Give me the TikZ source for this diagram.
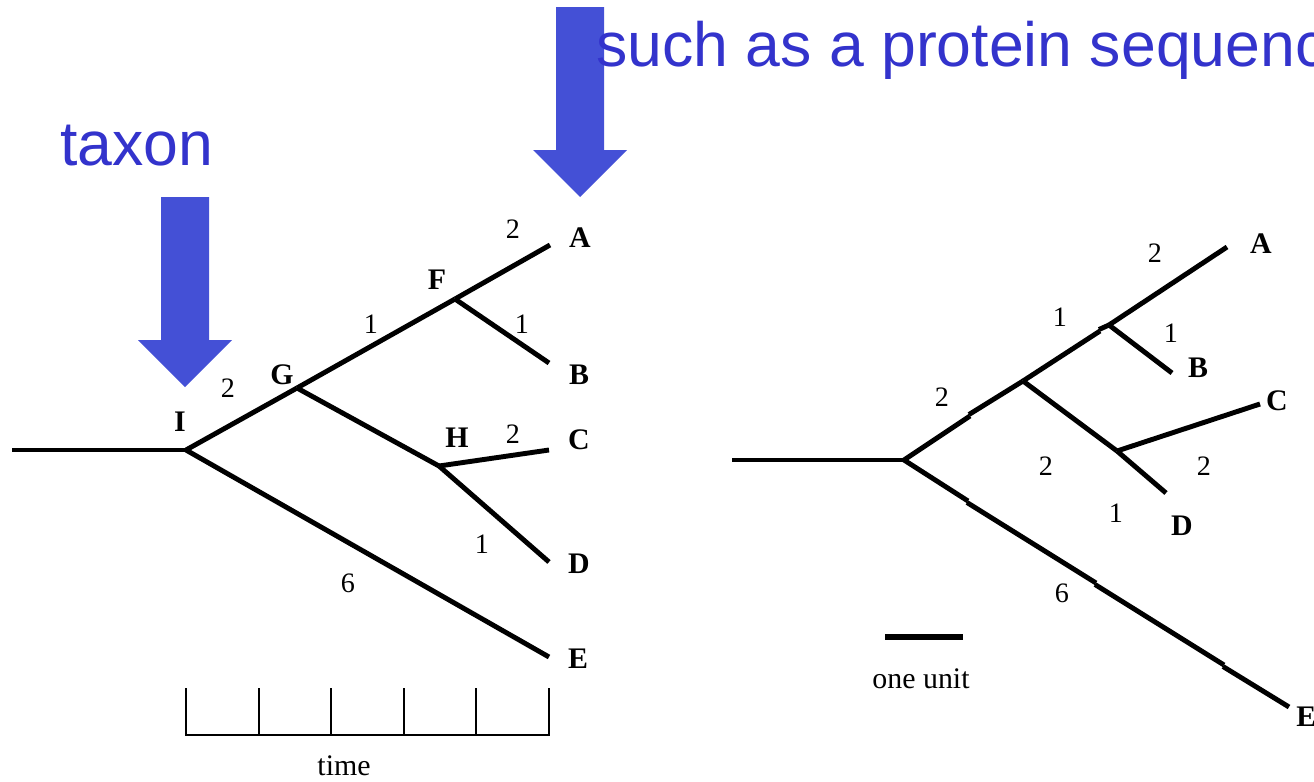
\documentclass[tikz,border=0pt]{standalone}
\usepackage{fontspec}
\setmainfont{Liberation Serif}
\newfontfamily\slidefont{Liberation Sans}
\usetikzlibrary{positioning}
\definecolor{ArrowBlue}{RGB}{68,80,214}
\definecolor{TextBlue}{RGB}{51,51,204}

\tikzset{
  branch/.style={line width=2.8pt},
  axisline/.style={line width=1.1pt},
  taxlabel/.style={font=\fontsize{17}{20}\selectfont\bfseries, inner sep=0pt},
  lenlabel/.style={font=\fontsize{16}{19}\selectfont, inner sep=0pt},
  plainlabel/.style={font=\fontsize{17}{20}\selectfont, inner sep=0pt},
  bigarrow/.style={fill=ArrowBlue},
  slidetext/.style={font=\slidefont\fontsize{35.6}{42}\selectfont, text=TextBlue, inner sep=0pt}
}

\begin{document}
\begin{tikzpicture}[x=0.02cm, y=-0.02cm]
\useasboundingbox (0,0) rectangle (1314,781);

% big arrows
\foreach \ax/\ay in {185/197, 580/7} {
  \fill[bigarrow] (\ax-24,\ay) -- (\ax+24,\ay) -- (\ax+24,\ay+143) -- (\ax+47,\ay+143)
    -- (\ax,\ay+190) -- (\ax-47,\ay+143) -- (\ax-24,\ay+143) -- cycle;
}
\node[slidetext, anchor=base] (taxon) at (137,165) {taxon};
\node[slidetext, anchor=base west] (seq) at (596,66) {such as a protein sequence};

% rooted tree, time scale
\coordinate (root) at (12,450);
\coordinate (I) at (186,450);
\coordinate (G) at (297,388);
\coordinate (F) at (455,299);
\coordinate (H) at (439,466);
\coordinate (A) at (550,245);
\coordinate (B) at (549,363);
\coordinate (C) at (549,450);
\coordinate (D) at (549,562);
\coordinate (E) at (549,657);
\draw[branch] (root) -- (I);
\draw[branch] (I) -- (G);
\draw[branch] (G) -- (F);
\draw[branch] (F) -- (A);
\draw[branch] (F) -- (B);
\draw[branch] (G) -- (H);
\draw[branch] (H) -- (C);
\draw[branch] (H) -- (D);
\draw[branch] (I) -- (E);

\node[taxlabel] (labI) at (180,422) {I};
\node[taxlabel] (labG) at (282,375) {G};
\node[taxlabel] (labF) at (437,280) {F};
\node[taxlabel] (labH) at (457,438) {H};
\node[taxlabel] (labA) at (580,238) {A};
\node[taxlabel] (labB) at (579,375) {B};
\node[taxlabel] (labC) at (579,440) {C};
\node[taxlabel] (labD) at (579,564) {D};
\node[taxlabel] (labE) at (578,659) {E};
\node[lenlabel] (lIG) at (228,388) {2};
\node[lenlabel] (lGF) at (371,324) {1};
\node[lenlabel] (lFA) at (513,229) {2};
\node[lenlabel] (lFB) at (522,324) {1};
\node[lenlabel] (lHC) at (513,434) {2};
\node[lenlabel] (lHD) at (482,544) {1};
\node[lenlabel] (lIE) at (348,583) {6};

\draw[axisline] (186,735) -- (549,735);
\foreach \i in {0,...,5}
  \draw[axisline] ({186+72.6*\i},735.5) -- ({186+72.6*\i},688);
\node[plainlabel] (time) at (344,766) {time};

% unrooted tree, branch lengths to scale
\coordinate (root2) at (732,460);
\coordinate (R) at (904,460);
\coordinate (Gr) at (1023,381);
\coordinate (Fr) at (1109,325);
\coordinate (Hr) at (1117,451);
\coordinate (Ar) at (1227,247);
\coordinate (Br) at (1172,373);
\coordinate (Cr) at (1260,404);
\coordinate (Dr) at (1166,493);
\coordinate (Er) at (1289,707);
\coordinate (j1) at (970,416);
\coordinate (j2) at (1100,331);
\coordinate (e1) at (968,501);
\coordinate (e2) at (1096,583);
\coordinate (e3) at (1224,665);
\draw[branch] (root2) -- (R);
\draw[branch] (R) -- (j1);
\draw[branch] ([shift={(-1,-1.5)}]j1) -- (Gr);
\draw[branch] (Gr) -- (j2);
\draw[branch] ([shift={(-1,-1.5)}]j2) -- (Fr);
\draw[branch] (Fr) -- (Ar);
\draw[branch] (Fr) -- (Br);
\draw[branch] (Gr) -- (Hr);
\draw[branch] (Hr) -- (Cr);
\draw[branch] (Hr) -- (Dr);
\draw[branch] (R) -- (e1);
\draw[branch] ([shift={(-1,1.5)}]e1) -- (e2);
\draw[branch] ([shift={(-1,1.5)}]e2) -- (e3);
\draw[branch] ([shift={(-1,1.5)}]e3) -- (Er);

\node[taxlabel] (labAr) at (1261,244) {A};
\node[taxlabel] (labBr) at (1198,368) {B};
\node[taxlabel] (labCr) at (1277,401) {C};
\node[taxlabel] (labDr) at (1182,526) {D};
\node[taxlabel, anchor=west] (labEr) at (1296,717) {E};
\node[lenlabel] (lRG) at (942,397) {2};
\node[lenlabel] (lGFr) at (1060,317) {1};
\node[lenlabel] (lFAr) at (1155,253) {2};
\node[lenlabel] (lFBr) at (1171,333) {1};
\node[lenlabel] (lGHr) at (1046,466) {2};
\node[lenlabel] (lHCr) at (1204,466) {2};
\node[lenlabel] (lHDr) at (1116,513) {1};
\node[lenlabel] (lREr) at (1062,593) {6};

\draw[line width=3.4pt] (885,637) -- (963,637);
\node[plainlabel] (unit) at (921,679) {one unit};
\end{tikzpicture}
\end{document}
